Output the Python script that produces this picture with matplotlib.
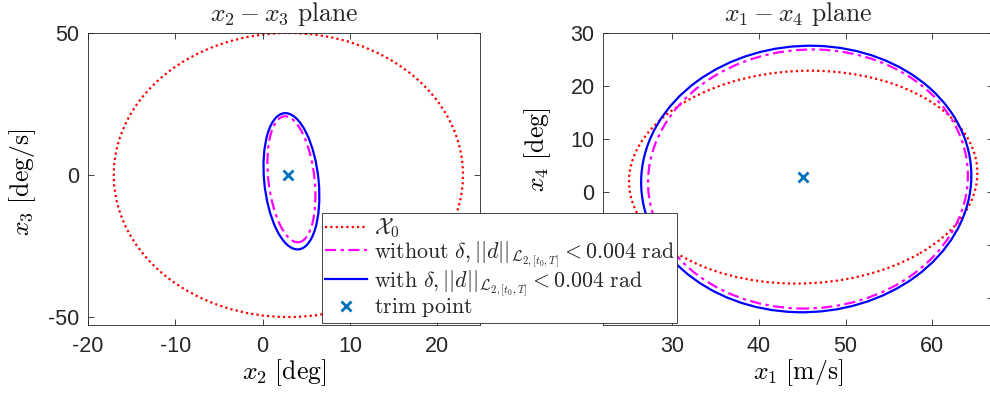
import matplotlib
matplotlib.use("Agg")
import matplotlib.pyplot as plt
from matplotlib.patches import Ellipse

plt.rcParams.update({
    "font.family": "Liberation Sans",
    "mathtext.fontset": "cm",
    "axes.unicode_minus": False,
    "axes.edgecolor": "#262626",
    "axes.linewidth": 0.6,
    "xtick.color": "#262626",
    "ytick.color": "#262626",
    "text.color": "#262626",
})

# x2 - x3 plane
x2x3_trim = [2.9, 0.0]
x2x3_centers = [(2.95, 0.0), (3.3, -1.5), (3.3, -2.2)]
x2x3_widths = [40.0, 5.3, 6.24]
x2x3_heights = [100.0, 44.4, 48.0]
x2x3_angles = [0.0, 1.9, 1.7]

# x1 - x4 plane
x1x4_trim = [45.1, 2.8]
x1x4_centers = [(45.1, 2.85), (45.65, 2.5), (45.45, 2.5)]
x1x4_widths = [40.94, 36.87, 38.07]
x1x4_heights = [39.34, 48.82, 50.22]
x1x4_angles = [43.2, -2.7, -2.6]

labels = [
    r"$\mathcal{X}_0$",
    r"$\mathrm{without}\ \delta, ||d||_{\mathcal{L}_{2,[t_0,T]}} < 0.004\ \mathrm{rad}$",
    r"$\mathrm{with}\ \delta, ||d||_{\mathcal{L}_{2,[t_0,T]}} < 0.004\ \mathrm{rad}$",
    r"$\mathrm{trim\ point}$",
]

styles = [
    dict(color="#FF0000", linestyle=(0, (1, 1.4)), linewidth=1.6),
    dict(color="#FF00FF", linestyle=(0, (5, 2, 1.5, 2)), linewidth=1.6),
    dict(color="#0000FF", linestyle="-", linewidth=1.6),
]
TRIM_COLOR = "#0072BD"

fig = plt.figure(figsize=(9.9, 3.98), dpi=100)
ax1 = fig.add_axes([88 / 990, 73 / 398, 392 / 990, 292 / 398])
ax2 = fig.add_axes([603 / 990, 73 / 398, 390 / 990, 292 / 398])


def draw_plane(ax, centers, widths, heights, angles, trim):
    for c, w, h, a, st in zip(centers, widths, heights, angles, styles):
        ax.add_patch(Ellipse(c, w, h, angle=a, fill=False, **st))
    ax.plot(trim[0], trim[1], "x", color=TRIM_COLOR, markersize=6.5, mew=2)
    ax.tick_params(direction="in", top=True, right=True, length=4,
                   width=0.6, labelsize=15.5)
    ax.tick_params(axis="x", pad=8)
    ax.tick_params(axis="y", pad=6)


draw_plane(ax1, x2x3_centers, x2x3_widths, x2x3_heights, x2x3_angles, x2x3_trim)
ax1.set_xlim(-20, 24.9)
ax1.set_ylim(-52.8, 50)
ax1.set_xticks([-20, -10, 0, 10, 20])
ax1.set_yticks([-50, 0, 50])
ax1.set_xlabel(r"$x_2\ \mathrm{[deg]}$", fontsize=18.5, labelpad=0)
ax1.set_ylabel(r"$x_3\ \mathrm{[deg/s]}$", fontsize=18.5)
ax1.yaxis.set_label_coords(-0.128, 0.49)
ax1.set_title(r"$x_2 - x_3\ \mathrm{plane}$", fontsize=18.5, pad=9)

draw_plane(ax2, x1x4_centers, x1x4_widths, x1x4_heights, x1x4_angles, x1x4_trim)
ax2.set_xlim(22, 67)
ax2.set_ylim(-25, 30)
ax2.set_xticks([30, 40, 50, 60])
# negative ticks sit behind the legend in the reference
ax2.set_yticks([-20, -10, 0, 10, 20, 30], ["", "", "0", "10", "20", "30"])
ax2.set_xlabel(r"$x_1\ \mathrm{[m/s]}$", fontsize=18.5, labelpad=0)
ax2.set_ylabel(r"$x_4\ \mathrm{[deg]}$", fontsize=18.5)
ax2.yaxis.set_label_coords(-0.128, 0.6)
ax2.set_title(r"$x_1 - x_4\ \mathrm{plane}$", fontsize=18.5, pad=9)

handles = [ax1.plot([], [], **st)[0] for st in styles]
handles.append(ax1.plot([], [], "x", color=TRIM_COLOR, markersize=6.5, mew=2,
                        linestyle="none")[0])

leg = fig.legend(handles, labels, loc="upper left",
                 bbox_to_anchor=(322 / 990, 1 - 213 / 398),
                 fontsize=15.8, handlelength=1.9, handletextpad=0.3,
                 labelspacing=-0.05, borderpad=0.15, borderaxespad=0,
                 fancybox=False, framealpha=1, edgecolor="#262626")
leg.get_frame().set_linewidth(0.6)

fig.savefig("out.png", dpi=100)
